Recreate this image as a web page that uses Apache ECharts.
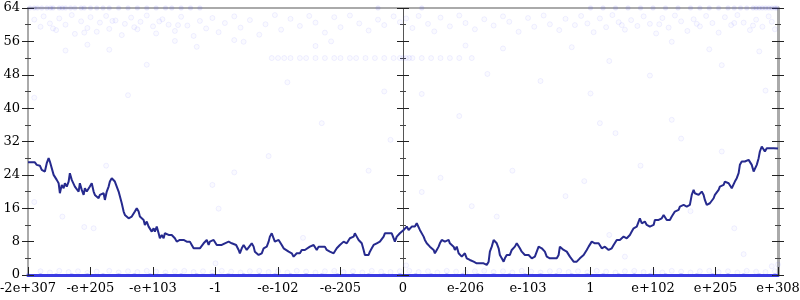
<!DOCTYPE html>
<html>
<head>
<meta charset="utf-8">
<script src="https://cdn.jsdelivr.net/npm/echarts@6/dist/echarts.min.js"></script>
<style>html,body{margin:0;padding:0;background:#fff}#c{width:800px;height:300px}</style>
</head>
<body>
<div id="c"></div>
<script>
// x tick labels (axis position 0..12)
const tickLabels = ['-2e+307','-e+205','-e+103','-1','-e-102','-e-205','0','e-206','e-103','1','e+102','e+205','e+308'];
const yTicks = [0, 8, 16, 24, 32, 40, 48, 56, 64];

// running line [axisPos, value]
const linePoints = [
[0,27.0],[0.11,27.0],[0.14,26.4],[0.17,26.0],[0.19,26.2],[0.22,25.2],[0.25,25.6],[0.27,24.8],[0.3,26.8],[0.33,28.0],[0.35,27.2],[0.38,26.8],[0.41,24.0],[0.43,23.6],[0.46,22.8],[0.49,22.0],[0.51,19.6],[0.54,21.6],[0.57,20.8],[0.59,22.0],[0.62,21.2],[0.65,22.4],[0.67,24.4],[0.7,22.8],[0.73,22.4],[0.75,21.2],[0.78,21.6],[0.81,20.0],[0.83,22.0],[0.86,20.4],[0.89,19.2],[0.91,20.8],[0.94,20.0],[0.97,20.4],[0.99,21.2],[1.02,22.0],[1.05,20.0],[1.07,19.2],[1.1,18.8],[1.13,18.4],[1.15,19.2],[1.18,18.8],[1.21,19.6],[1.23,18.0],[1.26,20.0],[1.29,21.2],[1.31,22.4],[1.34,23.2],[1.37,23.6],[1.39,22.4],[1.42,21.2],[1.45,20.0],[1.47,19.6],[1.5,17.2],[1.53,15.2],[1.55,14.4],[1.58,14.0],[1.61,13.6],[1.63,13.6],[1.66,14.0],[1.69,14.4],[1.71,15.2],[1.74,16.0],[1.77,15.2],[1.79,14.0],[1.82,13.6],[1.85,13.2],[1.87,12.0],[1.9,12.8],[1.93,11.6],[1.95,11.2],[1.98,10.4],[2.01,11.2],[2.03,10.4],[2.06,11.6],[2.09,10.0],[2.11,8.8],[2.14,9.6],[2.17,8.8],[2.19,10.0],[2.22,10.4],[2.25,9.6],[2.27,10.0],[2.3,9.6],[2.33,10.0],[2.35,8.8],[2.38,8.0],[2.41,8.0],[2.43,8.4],[2.46,8.0],[2.49,8.4],[2.51,8.8],[2.54,8.0],[2.57,8.4],[2.59,8.0],[2.62,7.2],[2.65,6.4],[2.67,6.2],[2.7,6.4],[2.73,6.6],[2.75,6.4],[2.78,6.8],[2.81,7.6],[2.83,8.0],[2.86,8.4],[2.89,7.2],[2.91,8.0],[2.94,7.6],[2.97,8.4],[2.99,8.0],[3.02,7.2],[3.05,6.8],
[3.1,7.2],[3.15,7.6],[3.21,8.0],[3.26,7.6],[3.29,8.0],[3.33,7.2],[3.37,6.0],[3.39,5.2],[3.42,6.4],[3.45,7.2],[3.47,6.8],[3.5,6.0],[3.53,6.4],[3.58,7.6],[3.61,6.8],[3.63,5.6],[3.66,6.0],[3.69,4.8],[3.71,4.4],[3.74,5.2],[3.77,6.4],[3.82,6.8],[3.85,8.0],[3.87,9.2],[3.9,10.0],[3.93,8.8],[3.95,8.0],[3.98,7.6],[4.01,8.4],[4.03,8.0],[4.06,7.2],[4.09,6.4],[4.11,6.0],[4.17,5.6],[4.19,6.0],[4.22,5.2],[4.25,4.4],[4.27,4.8],[4.3,5.2],[4.33,5.6],[4.35,5.2],[4.38,6.0],[4.41,6.4],[4.43,6.0],[4.46,6.4],[4.51,6.8],[4.54,6.4],[4.57,7.2],[4.59,6.8],[4.62,6.0],[4.65,6.8],[4.67,7.2],[4.7,6.8],[4.73,6.4],[4.75,6.8],[4.78,6.0],[4.81,6.4],[4.83,5.6],[4.86,5.2],[4.89,5.2],[4.91,5.6],[4.94,6.4],[4.97,6.8],[4.99,7.2],[5.02,7.6],[5.05,8.0],[5.07,7.6],[5.1,7.6],[5.13,8.0],[5.15,8.8],[5.18,9.2],[5.21,9.2],[5.23,10.0],[5.26,9.2],[5.29,8.4],[5.31,8.0],[5.34,7.6],[5.37,6.0],[5.39,4.8],[5.42,4.4],[5.45,4.8],[5.47,5.6],[5.5,6.4],[5.53,7.2],[5.55,7.2],[5.58,7.6],[5.61,7.2],[5.63,8.0],[5.66,8.0],[5.69,9.2],[5.71,10.0],[5.74,9.6],[5.77,10.0],[5.79,10.4],[5.82,10.0],[5.85,9.6],[5.87,8.0],[5.9,9.2],[5.93,9.6],[5.95,10.0],[5.98,10.4],[6.01,10.8],[6.03,11.2],[6.06,11.6],[6.09,10.8],
[6.11,11.2],[6.14,11.6],[6.17,12.0],[6.19,11.6],[6.22,12.4],[6.25,12.8],[6.27,10.8],[6.3,10.4],[6.33,9.2],[6.35,8.4],[6.38,7.6],[6.41,7.2],[6.43,6.8],[6.46,6.4],[6.49,6.0],[6.51,5.2],[6.54,6.0],[6.57,6.8],[6.59,7.6],[6.62,8.4],[6.65,8.8],[6.67,8.0],[6.7,8.0],[6.73,8.4],[6.75,7.6],[6.78,7.2],[6.81,6.8],[6.83,6.0],[6.86,6.8],[6.89,5.2],[6.91,4.8],[6.94,4.4],[6.97,4.8],[6.99,5.2],[7.02,4.0],[7.05,4.0],[7.07,3.6],[7.1,4.0],[7.13,3.2],[7.15,3.2],[7.18,2.8],[7.21,2.8],[7.23,2.8],[7.26,3.2],[7.29,2.8],[7.31,2.8],[7.34,2.4],[7.37,3.2],[7.39,5.6],[7.42,6.8],[7.45,8.4],[7.47,8.0],[7.5,7.6],[7.53,6.4],[7.55,4.8],[7.58,4.0],[7.61,3.2],[7.63,4.0],[7.66,4.8],[7.69,5.2],[7.71,4.8],[7.74,6.0],[7.77,6.4],[7.79,6.8],[7.82,7.6],[7.85,7.2],[7.87,6.4],[7.9,5.6],[7.93,5.2],[7.95,4.8],[7.98,4.4],[8.01,4.8],[8.03,4.4],[8.06,4.0],[8.09,4.0],[8.11,4.4],[8.14,5.6],[8.17,6.8],[8.19,6.8],[8.22,6.4],[8.25,6.8],[8.27,5.6],[8.3,4.4],[8.33,4.0],[8.35,4.0],[8.41,4.0],[8.46,4.0],[8.49,4.8],[8.51,6.8],[8.54,6.8],[8.57,6.0],[8.59,6.0],[8.62,5.6],[8.65,5.2],[8.67,4.4],[8.7,4.0],[8.73,3.2],[8.75,3.6],[8.78,3.2],[8.81,3.6],[8.83,4.0],[8.86,4.4],[8.89,4.8],[8.91,5.2],[8.94,6.0],[8.97,6.8],[8.99,7.2],[9.02,8.0],[9.05,8.0],[9.07,7.6],[9.1,8.0],[9.13,7.6],
[9.15,7.2],[9.18,6.4],[9.21,6.0],[9.23,6.8],[9.26,6.4],[9.29,6.0],[9.31,6.0],[9.34,6.4],[9.37,7.2],[9.39,7.6],[9.42,8.4],[9.45,8.8],[9.47,8.4],[9.5,8.8],[9.53,9.2],[9.55,8.8],[9.58,8.8],[9.61,9.2],[9.63,9.6],[9.66,10.4],[9.69,11.2],[9.71,10.8],[9.74,11.6],[9.77,12.8],[9.79,13.6],[9.82,12.4],[9.85,12.0],[9.87,12.8],[9.9,12.0],[9.93,12.4],[9.95,11.6],[9.98,11.2],[10.01,12.0],[10.03,13.2],[10.06,13.6],[10.09,13.2],[10.11,13.2],[10.14,13.6],[10.17,14.4],[10.19,14.0],[10.22,13.2],[10.25,13.6],[10.27,13.2],[10.3,14.0],[10.33,14.4],[10.35,15.2],[10.38,14.8],[10.41,15.6],[10.43,16.4],[10.46,16.8],[10.49,16.8],[10.51,16.4],[10.54,16.4],[10.57,16.0],[10.59,16.8],[10.62,19.2],[10.65,20.4],[10.67,19.6],[10.7,19.2],[10.73,19.2],[10.75,19.6],[10.78,20.0],[10.81,19.2],[10.83,18.0],[10.86,16.8],[10.89,16.8],[10.91,17.2],[10.94,17.6],[10.97,18.4],[10.99,19.2],[11.02,19.6],[11.05,20.4],[11.07,21.2],[11.1,21.2],[11.13,21.6],[11.15,22.4],[11.18,22.0],[11.21,22.0],[11.23,21.6],[11.26,20.8],[11.29,20.4],[11.31,22.4],[11.34,23.2],[11.37,24.4],[11.39,26.4],[11.42,27.2],[11.45,26.8],[11.47,27.2],[11.5,26.8],[11.53,27.6],[11.55,27.2],[11.58,26.4],[11.61,24.8],[11.63,24.4],[11.66,26.4],[11.69,28.0],[11.71,29.6],[11.74,30.8],[11.77,30.4],[11.79,29.6],[11.82,30.4],[11.85,30.0],[11.87,30.4],[11.9,30.1],[11.93,30.4],[11.95,30.3],[12,30.3]
];

// faint scatter samples
const topRowX = [0.03,0.1,0.15,0.22,0.3,0.36,0.4,0.5,0.55,0.6,0.68,0.75,0.85,0.9,1.0,1.1,1.2,1.3,1.45,1.6,1.75,1.9,2.05,2.2,2.3,2.45,2.6,2.75,5.6,6.3,9.0,9.2,9.4,9.6,9.8,10.0,10.2,10.4,10.6,10.75,10.9,11.05,11.2,11.3,11.4,11.5,11.6,11.65,11.7,11.75,11.8,11.85,11.9,11.95,11.98];
const upperBand = [[0.1,61.2],[0.2,59.5],[0.25,62],[0.35,60.3],[0.45,58.7],[0.5,61.5],[0.6,60],[0.7,62.3],[0.75,57.8],[0.85,60.8],[0.95,59.2],[1.0,61.8],[1.1,58.3],[1.15,60.5],[1.25,62.1],[1.3,59],[1.4,61],[1.5,57.5],[1.55,60.2],[1.65,61.7],[1.75,58.9],[1.8,60.7],[1.9,62.2],[2.0,59.6],[2.05,57.9],[2.15,61.3],[2.25,60],[2.35,58.5],[2.45,61.9],[2.55,59.8],[2.65,57.3],[2.75,60.9],[2.85,59.1],[2.95,61.6],[3.05,58.2],[3.15,60.4],[3.3,62],[3.4,59.3],[3.55,61.1],[3.7,57.6],[3.8,60.1],[3.95,62.3],[4.05,58.8],[4.2,61.4],[4.35,59.7],[4.5,62.1],[4.6,60.5],[4.75,58.1],[4.9,61.8],[5.0,59.4],[5.15,62.2],[5.3,60.3],[5.45,58.6],[5.6,61.2],[5.7,59.9],[5.85,62],[5.95,60.6],[6.05,61.5],[6.15,59.2],[6.25,62.1],[6.4,60.2],[6.5,58.4],[6.6,61.7],[6.75,59.6],[6.9,62.2],[7.0,60.4],[7.15,58.9],[7.3,61.3],[7.45,59.8],[7.6,62],[7.7,60.7],[7.85,58.3],[8.0,61.6],[8.1,59.5],[8.25,62.2],[8.35,60.1],[8.5,58.7],[8.6,61.4],[8.75,59.9],[8.85,62.1],[8.95,60.3],[9.05,58.2],[9.15,61.5],[9.25,59.4],[9.35,62.3],[9.45,60.6],[9.55,58.8],[9.65,61.1],[9.75,59.7],[9.85,62],[9.95,60.2],[10.05,57.9],[10.15,61.6],[10.25,59.3],[10.35,62.2],[10.45,60.8],[10.55,58.5],[10.65,61.3],[10.75,59.6],[10.85,62.1],[10.95,60.4],[11.05,58.1],[11.15,61.8],[11.25,59.9],[11.35,62.3],[11.45,60.5],[11.55,58.7],[11.65,61.2],[11.75,59.5],[11.85,62],[11.9,60.7],[11.95,58.9],[0.4,59.1],[0.9,58.1],[1.35,60.9],[1.7,59.4],[2.1,60.8],[2.4,59.9],[9.5,59.9],[10.1,60.1],[10.7,60.2],[11.3,60.4],[11.6,59.8]];
const row52X = [3.9,4.0,4.1,4.2,4.35,4.45,4.6,4.75,4.9,5.0,5.15,5.25,5.4,5.55,5.7,5.85,5.95,6.0,6.05,6.1,6.15,6.3,6.45,6.6,6.75,6.9,7.1];
const midPoints = [[0.6,53.8],[0.95,55.2],[1.3,54],[1.9,50.4],[2.35,56.1],[2.7,54.7],[3.3,56.3],[3.45,55.9],[4.15,46.2],[4.6,54.9],[4.85,56],[5.7,44],[6.3,43.4],[7.0,55],[7.35,48.2],[7.6,54.3],[8.2,46.5],[8.7,54.6],[9.0,43.5],[9.3,51.3],[9.95,47.8],[10.3,55.9],[10.9,54.1],[11.1,50.3],[11.7,53.6],[11.8,44.2],[0.1,42.5],[1.6,43.1],
[0.1,17.5],[0.55,14],[0.9,11.5],[1.05,11.2],[1.25,26.2],[2.95,21.6],[3.05,15.9],[3.3,24.6],[3.85,28.5],[4.4,8.9],[4.7,36.4],[5.45,25],[5.8,32.4],[6.3,19.9],[6.6,23.3],[6.9,38.1],[7.1,16.5],[7.5,14],[7.75,25],[8.6,18.9],[8.9,22.5],[9.15,36.4],[9.3,9.6],[9.4,34],[9.55,4.4],[9.8,26.2],[10.3,37.2],[10.45,32.7],[10.6,15.3],[11.1,29.6],[11.3,11.2],[11.45,5],[12.0,2.5]];
const bottomBand = [[0.2,0.9],[0.35,0.6],[0.5,1.0],[0.65,0.7],[0.8,0.9],[0.95,0.5],[1.1,0.8],[1.3,1.0],[1.45,0.6],[1.6,0.9],[1.75,0.7],[1.9,1.0],[2.05,0.8],[2.2,0.6],[2.35,0.9],[2.5,1.0],[2.65,0.7],[2.8,0.9],[2.95,0.6],[3.1,1.0],[3.25,0.8],[3.4,0.6],[3.55,0.9],[3.7,1.0],[3.85,0.7],[4.0,0.9],[4.15,0.6],[4.3,1.0],[4.45,0.8],[4.6,0.6],[4.75,0.9],[4.9,1.0],[5.05,0.7],[5.2,0.9],[5.35,0.6],[5.5,1.0],[5.65,0.8],[5.8,0.7],[5.95,0.9],[6.1,1.0],[6.25,0.7],[6.4,0.9],[6.55,0.6],[6.7,1.0],[6.85,0.8],[7.0,0.6],[7.15,0.9],[7.3,1.0],[7.45,0.7],[7.6,0.9],[7.75,0.6],[7.9,1.0],[8.05,0.8],[8.2,0.6],[8.35,0.9],[8.5,1.0],[8.65,0.7],[8.8,0.9],[8.95,0.6],[9.1,1.0],[9.25,0.8],[9.4,0.6],[9.55,0.9],[9.7,1.0],[9.85,0.7],[10.0,0.9],[10.15,0.6],[10.3,1.0],[10.45,0.8],[10.6,0.6],[10.75,0.9],[10.9,1.0],[11.05,0.7],[11.2,0.9],[11.35,0.6],[11.5,1.0],[11.65,0.8],[11.8,0.7],[11.95,0.9],[3.0,2.8],[6.05,2.3],[11.9,2.1]];
const zeroRowX = [0,0.2,0.45,0.7,0.95,1.2,1.45,1.7,1.95,2.2,2.45,2.7,2.95,3.2,3.45,3.7,3.95,4.2,4.45,4.7,4.95,5.2,5.45,5.7,5.95,6.2,6.45,6.7,6.95,7.2,7.45,7.7,7.95,8.2,8.45,8.7,8.95,9.2,9.45,9.7,9.95,10.2,10.45,10.7,10.95,11.2,11.45,11.7,11.95];

const font = 'DejaVu Serif';
const faint = { color: 'rgba(80,80,255,0.035)', borderColor: 'rgba(80,80,255,0.10)', borderWidth: 1 };

function yAx(extra) {
  return Object.assign({
    type: 'value', min: 0, max: 64, interval: 8,
    splitLine: { show: false },
    axisLabel: { show: false },
    axisLine: { show: false, onZero: false },
    axisTick: { show: true, length: 6, lineStyle: { color: '#222', width: 1 } },
    minorTick: { show: true, splitNumber: 2, length: 3, lineStyle: { color: '#444', width: 1 } }
  }, extra);
}

const chart = echarts.init(document.getElementById('c'), null, { renderer: 'canvas' });
chart.setOption({
  animation: false,
  backgroundColor: '#fff',
  grid: { left: 28, right: 22, top: 8, bottom: 25, containLabel: false, outerBoundsMode: 'none' },
  xAxis: [
    {
      type: 'value', min: 0, max: 12, interval: 1, position: 'bottom',
      splitLine: { show: false },
      axisLine: { show: true, onZero: false, lineStyle: { color: '#3a3ae2', width: 3 } },
      axisTick: { show: true, inside: true, length: 8, lineStyle: { color: '#222', width: 1 } },
      axisLabel: { show: true, margin: 7, color: '#000', fontFamily: font, fontSize: 13,
        showMinLabel: true, showMaxLabel: true,
        formatter: v => tickLabels[Math.round(v)] ?? '' }
    },
    {
      type: 'value', min: 0, max: 12, interval: 1, position: 'top',
      splitLine: { show: false },
      axisLine: { show: true, onZero: false, lineStyle: { color: '#aaa', width: 2 } },
      axisTick: { show: false }, axisLabel: { show: false }
    }
  ],
  yAxis: [
    yAx({ position: 'left',
      axisLine: { show: true, onZero: false, lineStyle: { color: '#aaa', width: 2 } },
      axisLabel: { show: true, margin: 8, color: '#000', fontFamily: font, fontSize: 13,
        formatter: v => yTicks.includes(v) ? String(v) : '' } }),
    yAx({ position: 'left', axisTick: { show: true, inside: true, length: 6, lineStyle: { color: '#222' } } }),
    yAx({ position: 'right',
      axisLine: { show: true, onZero: false, lineStyle: { color: '#aaa', width: 3 } } }),
    yAx({ position: 'right', axisTick: { show: true, inside: true, length: 6, lineStyle: { color: '#222' } } }),
    yAx({ position: 'left', offset: -375,
      axisLine: { show: true, onZero: false, lineStyle: { color: '#555', width: 1 } } }),
    yAx({ position: 'left', offset: -375, axisTick: { show: true, inside: true, length: 6, lineStyle: { color: '#222' } } })
  ],
  series: [
    { type: 'scatter', symbol: 'circle', symbolSize: 5, itemStyle: faint, silent: true, z: 1,
      data: upperBand.concat(midPoints, bottomBand) },
    { type: 'scatter', symbol: 'circle', symbolSize: 5, itemStyle: faint, silent: true, z: 1,
      data: row52X.map(x => [x, 52]) },
    { type: 'scatter', symbol: 'circle', symbolSize: 5, silent: true, z: 1,
      itemStyle: { color: 'rgba(60,60,235,0.16)' },
      data: topRowX.map(x => [x, 64]) },
    { type: 'scatter', symbol: 'circle', symbolSize: 4, silent: true, z: 1,
      itemStyle: { color: 'rgba(60,60,235,0.3)' },
      data: zeroRowX.map(x => [x, 0]) },
    { type: 'line', data: linePoints, showSymbol: false, symbol: 'none', z: 3,
      lineStyle: { color: '#262a8e', width: 2 } }
  ]
});
</script>
</body>
</html>
